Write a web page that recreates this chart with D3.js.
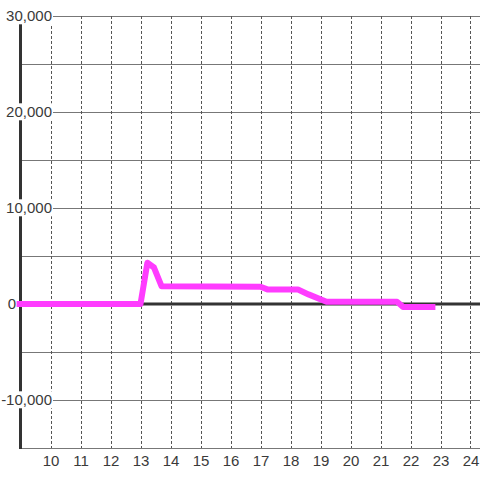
<!DOCTYPE html>
<html><head><meta charset="utf-8">
<script src="https://cdn.jsdelivr.net/npm/d3@7"></script>
<style>html,body{margin:0;padding:0;background:#fff;}svg{display:block;font-family:"Liberation Sans",Arial,sans-serif;}</style>
</head><body><svg id="c" width="480" height="480"></svg>
<script>
const hours = [8.87, 13.0, 13.23, 13.45, 13.7, 17.0, 17.25, 18.25, 18.6, 19.2, 21.55, 21.75, 22.83];
const values = [0, 0, 4300, 3800, 1850, 1800, 1500, 1500, 1000, 230, 230, -300, -300];
const xTicks = [10,11,12,13,14,15,16,17,18,19,20,21,22,23,24];
const yLabelTicks = [-10000, 0, 10000, 20000, 30000];
const yGridTicks = [-15000,-10000,-5000,0,5000,10000,15000,20000,25000,30000];

const svg = d3.select("#c");
const x = d3.scaleLinear().domain([9, 24.3]).range([20.5, 479.5]);
const y = d3.scaleLinear().domain([-15000, 30000]).range([448, 16]);
const loc = d3.formatLocale({decimal: ".", thousands: ",", grouping: [3], currency: ["$", ""], minus: "-"});

svg.append("g").selectAll("line").data(yGridTicks).join("line")
  .attr("x1", 20).attr("x2", 480)
  .attr("y1", d => Math.round(y(d)) + 0.5).attr("y2", d => Math.round(y(d)) + 0.5)
  .attr("stroke", "#777").attr("stroke-width", 1);

svg.append("g").selectAll("line").data(xTicks).join("line")
  .attr("x1", d => Math.round(x(d)) + 0.5).attr("x2", d => Math.round(x(d)) + 0.5)
  .attr("y1", y(30000)).attr("y2", y(-15000))
  .attr("stroke", "#555").attr("stroke-width", 1).attr("stroke-dasharray", "3,2");

svg.append("line").attr("x1", 20).attr("x2", 480)
  .attr("y1", y(0)).attr("y2", y(0)).attr("stroke", "#333").attr("stroke-width", 3);
svg.append("line").attr("x1", 20.5).attr("x2", 20.5)
  .attr("y1", y(30000)).attr("y2", y(-15000) + 1).attr("stroke", "#333").attr("stroke-width", 3);

const xa = svg.append("g").attr("transform", "translate(0,455)")
  .call(d3.axisBottom(x).tickValues(xTicks).tickSize(0).tickPadding(0).tickFormat(d3.format("d")));
xa.select(".domain").remove();
xa.selectAll("text").attr("font-size", 15).attr("fill", "#3a3a3a")
  .attr("font-family", "Liberation Sans, Arial, sans-serif").attr("dy", "0.75em");

const ya = svg.append("g").attr("transform", "translate(52,0)")
  .call(d3.axisLeft(y).tickValues(yLabelTicks).tickSize(0).tickPadding(0).tickFormat(loc.format(",")));
ya.select(".domain").remove();
ya.selectAll("text").attr("font-size", 15).attr("fill", "#3a3a3a")
  .attr("font-family", "Liberation Sans, Arial, sans-serif")
  .attr("x", d => d === 0 ? -36 : 0);
ya.selectAll(".tick").each(function() {
  const t = d3.select(this).select("text");
  const b = t.node().getBBox();
  d3.select(this).insert("rect", "text")
    .attr("x", b.x - 1).attr("y", b.y).attr("width", b.width + 2).attr("height", b.height)
    .attr("fill", "#fff");
});

const line = d3.line().x((d, i) => x(hours[i])).y(d => y(d));
svg.append("path").datum(values).attr("d", line)
  .attr("fill", "none").attr("stroke", "#ff3cff").attr("stroke-width", 6)
  .attr("stroke-linejoin", "round").attr("stroke-linecap", "butt");
</script></body></html>
